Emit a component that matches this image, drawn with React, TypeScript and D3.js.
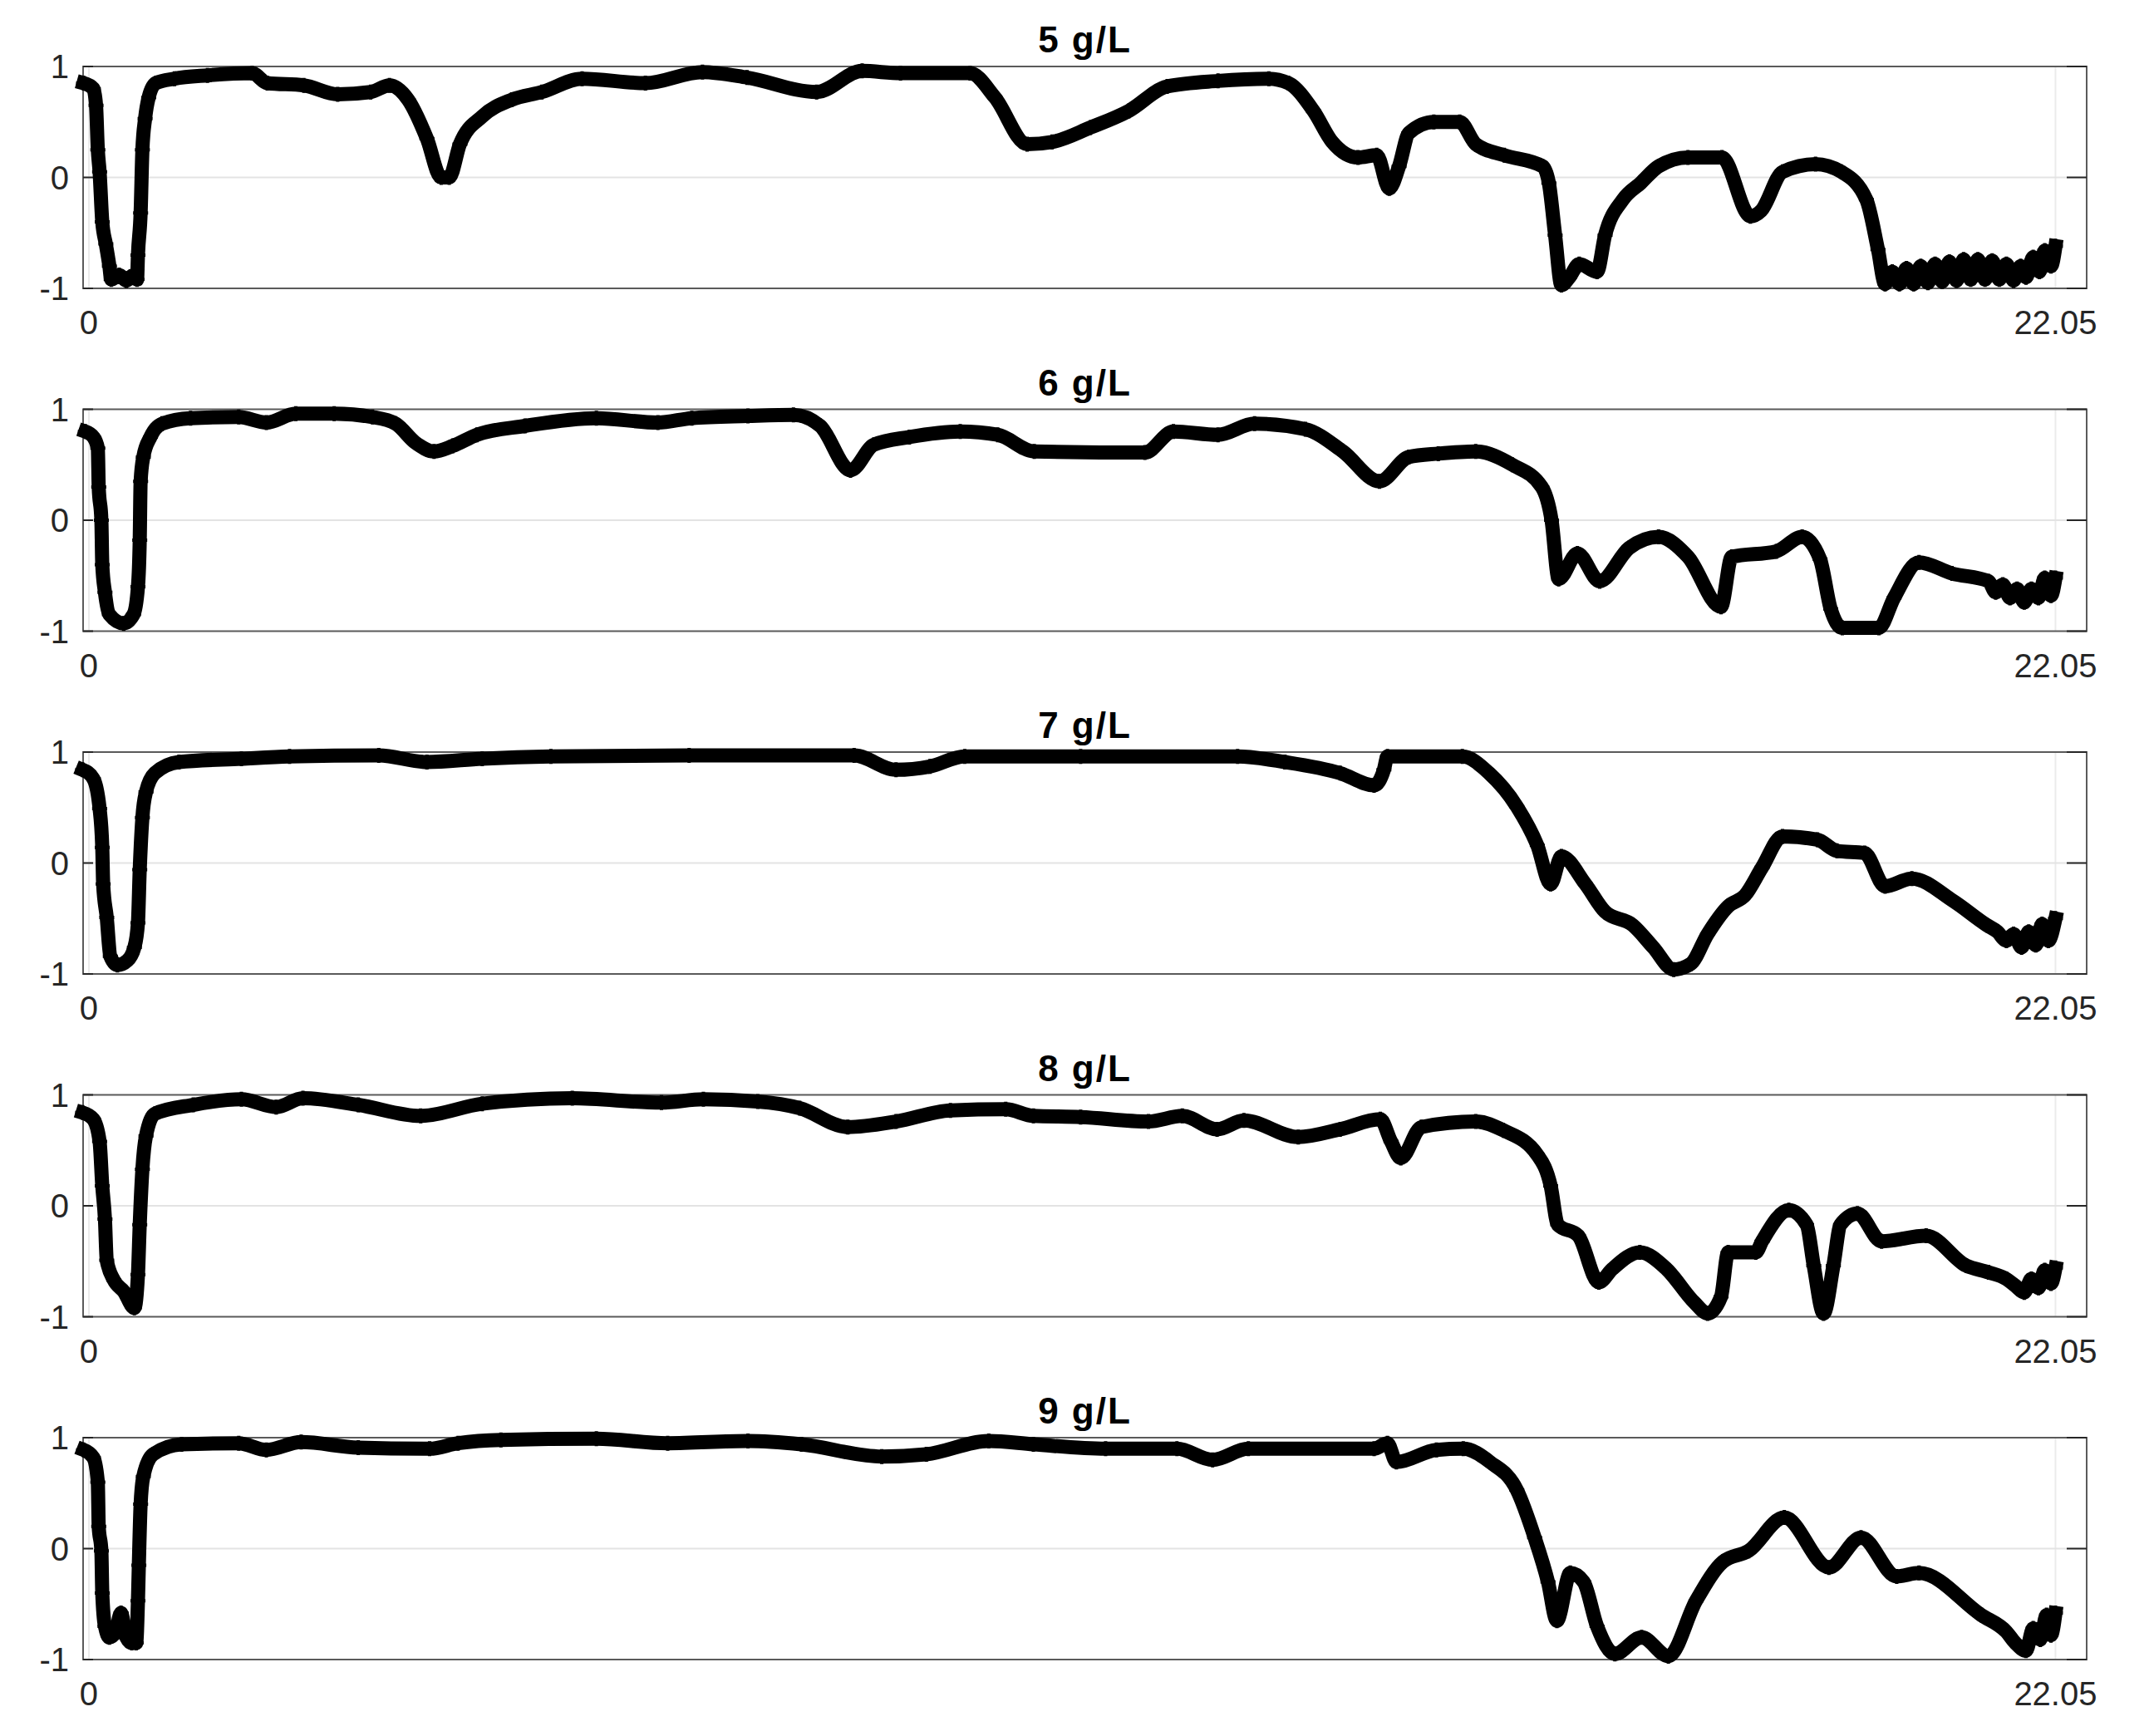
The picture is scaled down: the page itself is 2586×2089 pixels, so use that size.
import React from 'react';
import * as d3 from 'd3';

// correlation traces, one per concentration as [time, value]
const panelTitles = ['5 g/L', '6 g/L', '7 g/L', '8 g/L', '9 g/L'];
const yTicks = [-1, 0, 1];
const xTicks = [0, 22.05];
const xTickLabels = ['0', '22.05'];

const conc5: [number, number][] = [
  [-0.06, 0.85], [0.05, 0.8], [0.08, 0.65], [0.1, 0.25], [0.12, 0.05], [0.15, -0.4], [0.19, -0.6],
  [0.23, -0.8], [0.25, -0.92], [0.34, -0.88], [0.42, -0.93], [0.5, -0.88], [0.54, -0.92], [0.55, -0.7],
  [0.58, -0.32], [0.6, 0.25], [0.63, 0.53], [0.67, 0.72], [0.75, 0.85], [0.96, 0.89], [1.33, 0.92],
  [1.83, 0.94], [2.0, 0.85], [2.41, 0.83], [2.79, 0.75], [3.16, 0.77], [3.37, 0.83], [3.58, 0.7],
  [3.79, 0.35], [3.95, 0.0], [4.04, 0.0], [4.16, 0.3], [4.41, 0.55], [4.74, 0.7], [5.08, 0.77],
  [5.53, 0.89], [6.24, 0.85], [6.88, 0.95], [7.38, 0.9], [8.16, 0.77], [8.67, 0.96], [9.1, 0.94],
  [9.88, 0.94], [10.16, 0.72], [10.52, 0.3], [10.8, 0.32], [11.23, 0.45], [11.66, 0.6], [12.09, 0.82],
  [12.66, 0.87], [13.23, 0.89], [13.45, 0.85], [13.73, 0.6], [13.94, 0.32], [14.23, 0.18], [14.44, 0.2],
  [14.58, -0.1], [14.69, 0.1], [14.8, 0.4], [15.08, 0.5], [15.37, 0.5], [15.55, 0.3], [15.87, 0.2],
  [16.3, 0.1], [16.37, -0.05], [16.44, -0.52], [16.51, -0.97], [16.6, -0.9], [16.71, -0.78],
  [16.91, -0.85], [17.0, -0.52], [17.2, -0.2], [17.4, -0.05], [17.6, 0.1], [17.93, 0.18], [18.31, 0.18],
  [18.63, -0.35], [18.75, -0.3], [18.99, 0.05], [19.36, 0.12], [19.65, 0.05], [19.93, -0.2],
  [20.06, -0.65], [20.14, -0.96], [20.22, -0.85], [20.3, -0.96], [20.38, -0.82], [20.46, -0.96],
  [20.54, -0.8], [20.62, -0.95], [20.7, -0.78], [20.78, -0.94], [20.86, -0.76], [20.94, -0.93],
  [21.02, -0.74], [21.1, -0.92], [21.18, -0.74], [21.26, -0.92], [21.34, -0.75], [21.42, -0.92],
  [21.5, -0.78], [21.58, -0.93], [21.66, -0.8], [21.72, -0.9], [21.8, -0.72], [21.87, -0.85],
  [21.93, -0.66], [22.0, -0.8], [22.05, -0.62]
];

const conc6: [number, number][] = [
  [-0.04, 0.8], [0.05, 0.75], [0.1, 0.65], [0.11, 0.3], [0.14, 0.0], [0.15, -0.4], [0.18, -0.65],
  [0.23, -0.85], [0.39, -0.93], [0.5, -0.85], [0.55, -0.6], [0.57, -0.18], [0.58, 0.35], [0.61, 0.57],
  [0.69, 0.75], [0.82, 0.87], [1.14, 0.92], [1.68, 0.93], [1.99, 0.88], [2.32, 0.96], [2.75, 0.96],
  [3.18, 0.93], [3.44, 0.87], [3.66, 0.7], [3.87, 0.62], [4.08, 0.67], [4.35, 0.77], [4.89, 0.85],
  [5.69, 0.92], [6.38, 0.88], [6.76, 0.92], [7.39, 0.94], [7.9, 0.95], [8.2, 0.85], [8.54, 0.45],
  [8.8, 0.68], [9.2, 0.75], [9.77, 0.8], [10.19, 0.77], [10.6, 0.62], [11.84, 0.61], [12.16, 0.8],
  [12.66, 0.77], [13.07, 0.87], [13.64, 0.82], [14.06, 0.62], [14.47, 0.35], [14.8, 0.57], [15.13, 0.6],
  [15.55, 0.62], [15.96, 0.5], [16.29, 0.3], [16.4, 0.0], [16.48, -0.53], [16.69, -0.3], [16.94, -0.55],
  [17.27, -0.25], [17.6, -0.15], [17.93, -0.33], [18.3, -0.78], [18.42, -0.33], [18.92, -0.28],
  [19.21, -0.15], [19.41, -0.35], [19.53, -0.8], [19.66, -0.97], [20.07, -0.97], [20.24, -0.7],
  [20.52, -0.38], [20.89, -0.48], [21.3, -0.55], [21.38, -0.65], [21.46, -0.58], [21.54, -0.7],
  [21.62, -0.62], [21.7, -0.74], [21.78, -0.62], [21.86, -0.7], [21.93, -0.52], [22.0, -0.68],
  [22.05, -0.52]
];

const conc7: [number, number][] = [
  [-0.07, 0.84], [0.05, 0.76], [0.12, 0.49], [0.15, 0.14], [0.16, -0.19], [0.2, -0.49], [0.24, -0.84],
  [0.32, -0.92], [0.43, -0.88], [0.51, -0.76], [0.55, -0.54], [0.57, -0.06], [0.6, 0.41], [0.64, 0.64],
  [0.74, 0.81], [1.01, 0.91], [1.71, 0.94], [2.25, 0.96], [3.25, 0.97], [3.79, 0.91], [4.41, 0.94],
  [5.18, 0.96], [6.73, 0.97], [8.58, 0.97], [9.05, 0.84], [9.43, 0.87], [9.82, 0.96], [11.12, 0.96],
  [12.88, 0.96], [13.41, 0.91], [14.03, 0.81], [14.41, 0.7], [14.52, 0.84], [14.56, 0.96], [15.4, 0.96],
  [15.7, 0.81], [16.01, 0.51], [16.24, 0.16], [16.39, -0.19], [16.51, 0.06], [16.78, -0.19], [17.0, -0.44],
  [17.31, -0.56], [17.54, -0.76], [17.77, -0.96], [17.96, -0.91], [18.15, -0.64], [18.38, -0.39],
  [18.57, -0.29], [18.76, -0.04], [18.99, 0.24], [19.38, 0.21], [19.6, 0.11], [19.91, 0.09],
  [20.14, -0.21], [20.44, -0.14], [20.9, -0.34], [21.28, -0.56], [21.4, -0.62], [21.5, -0.7],
  [21.58, -0.64], [21.67, -0.76], [21.75, -0.62], [21.83, -0.74], [21.9, -0.55], [21.97, -0.7],
  [22.05, -0.5]
];

const conc8: [number, number][] = [
  [-0.07, 0.84], [0.05, 0.78], [0.12, 0.58], [0.15, 0.18], [0.18, -0.12], [0.2, -0.49], [0.28, -0.67],
  [0.39, -0.77], [0.51, -0.92], [0.55, -0.62], [0.57, -0.17], [0.6, 0.33], [0.64, 0.63], [0.74, 0.83],
  [1.17, 0.91], [1.71, 0.96], [2.1, 0.89], [2.4, 0.97], [3.02, 0.91], [3.72, 0.81], [4.41, 0.92],
  [5.42, 0.97], [6.42, 0.93], [6.89, 0.96], [7.5, 0.94], [7.97, 0.88], [8.51, 0.71], [9.05, 0.76],
  [9.66, 0.86], [10.28, 0.87], [10.59, 0.81], [11.12, 0.8], [11.88, 0.76], [12.26, 0.81], [12.65, 0.69],
  [12.95, 0.77], [13.56, 0.62], [14.03, 0.69], [14.48, 0.78], [14.6, 0.58], [14.71, 0.43], [14.94, 0.71],
  [15.55, 0.76], [15.86, 0.68], [16.24, 0.46], [16.39, 0.18], [16.47, -0.17], [16.7, -0.27],
  [16.93, -0.69], [17.08, -0.57], [17.39, -0.42], [17.69, -0.57], [18.0, -0.87], [18.15, -0.97],
  [18.3, -0.82], [18.38, -0.42], [18.69, -0.42], [18.76, -0.32], [19.06, -0.04], [19.26, -0.17],
  [19.34, -0.54], [19.45, -0.97], [19.56, -0.54], [19.64, -0.17], [19.83, -0.07], [20.1, -0.32],
  [20.6, -0.27], [21.05, -0.54], [21.3, -0.6], [21.5, -0.66], [21.6, -0.72], [21.7, -0.78],
  [21.78, -0.66], [21.86, -0.74], [21.93, -0.58], [22.0, -0.7], [22.05, -0.56]
];

const conc9: [number, number][] = [
  [-0.06, 0.89], [0.05, 0.82], [0.1, 0.6], [0.11, 0.2], [0.14, -0.02], [0.15, -0.4], [0.18, -0.7],
  [0.23, -0.8], [0.3, -0.75], [0.36, -0.58], [0.42, -0.8], [0.48, -0.85], [0.53, -0.85], [0.55, -0.47],
  [0.56, -0.15], [0.58, 0.4], [0.61, 0.65], [0.72, 0.85], [1.04, 0.94], [1.68, 0.95], [1.99, 0.89],
  [2.38, 0.96], [3.02, 0.91], [3.82, 0.9], [4.14, 0.95], [4.62, 0.98], [5.69, 0.99], [6.49, 0.95],
  [7.39, 0.97], [7.99, 0.94], [8.89, 0.83], [9.39, 0.85], [10.09, 0.97], [10.59, 0.94], [11.4, 0.9],
  [12.2, 0.9], [12.6, 0.8], [13.0, 0.9], [14.41, 0.9], [14.56, 0.95], [14.66, 0.78], [15.11, 0.89],
  [15.41, 0.9], [15.71, 0.78], [16.01, 0.53], [16.21, 0.1], [16.36, -0.3], [16.46, -0.65], [16.61, -0.22],
  [16.76, -0.3], [16.91, -0.7], [17.11, -0.95], [17.41, -0.8], [17.71, -0.97], [18.02, -0.47],
  [18.32, -0.12], [18.61, -0.02], [19.01, 0.28], [19.51, -0.17], [19.87, 0.1], [20.27, -0.25],
  [20.52, -0.22], [21.22, -0.6], [21.5, -0.75], [21.6, -0.85], [21.72, -0.92], [21.8, -0.72],
  [21.88, -0.82], [21.95, -0.6], [22.0, -0.78], [22.05, -0.58]
];

const allSeries = [conc5, conc6, conc7, conc8, conc9];

const W = 2586;
const H = 2089;
const left = 100;
const right = 2511;
const firstTop = 80;
const plotH = 267;
const step = 412.5;
const ink = '#262626';
const font = '"Liberation Sans", Arial, Helvetica, sans-serif';

function Panel({ data, title, top }: { data: [number, number][]; title: string; top: number }) {
  const x = d3.scaleLinear().domain([-0.065, 22.4]).range([left, right]);
  const y = d3.scaleLinear().domain([-1, 1]).range([top + plotH, top]);
  const line = d3
    .line<[number, number]>()
    .x((d) => x(d[0]))
    .y((d) => y(d[1]))
    .curve(d3.curveMonotoneX);
  const bottom = top + plotH;

  return (
    <g>
      {/* grid */}
      {xTicks.map((t) => (
        <line key={'gx' + t} x1={x(t)} x2={x(t)} y1={top} y2={bottom} stroke="#ebebeb" strokeWidth={2} />
      ))}
      <line x1={left} x2={right} y1={y(0)} y2={y(0)} stroke="#e3e3e3" strokeWidth={2} />

      {/* box */}
      <rect x={left} y={top} width={right - left} height={plotH} fill="none" stroke="#5a5a5a" strokeWidth={2} />
      {yTicks.map((t) => (
        <g key={'ty' + t}>
          <line x1={left} x2={left + 12} y1={y(t)} y2={y(t)} stroke={ink} strokeWidth={2} />
          <line x1={right - 24} x2={right} y1={y(t)} y2={y(t)} stroke={ink} strokeWidth={2} />
        </g>
      ))}

      {/* trace */}
      <path
        d={line(data) || ''}
        fill="none"
        stroke="#000"
        strokeWidth={17}
        strokeLinejoin="round"
        strokeLinecap="square"
      />
      {data.map((d, i) => (
        <path
          key={i}
          d={`M${x(d[0]) - 9},${y(d[1])}h18M${x(d[0])},${y(d[1]) - 9}v18`}
          stroke="#000"
          strokeWidth={4}
        />
      ))}

      {/* tick labels */}
      {yTicks.map((t) => (
        <text
          key={'ly' + t}
          x={left - 17}
          y={y(t)}
          dy="0.36em"
          textAnchor="end"
          fontSize={40}
          fontFamily={font}
          fill={ink}
        >
          {t}
        </text>
      ))}
      {xTicks.map((t, i) => (
        <text
          key={'lx' + t}
          x={x(t)}
          y={bottom + 55}
          textAnchor="middle"
          fontSize={40}
          fontFamily={font}
          fill={ink}
        >
          {xTickLabels[i]}
        </text>
      ))}

      <text
        x={(left + right) / 2}
        y={top - 17}
        textAnchor="middle"
        fontSize={44}
        fontWeight="bold"
        letterSpacing={2}
        fontFamily={font}
        fill="#000"
      >
        {title}
      </text>
    </g>
  );
}

export default function App() {
  return (
    <svg
      width={W}
      height={H}
      style={{ position: 'absolute', left: 0, top: 0, display: 'block', background: '#fff' }}
    >
      <rect width={W} height={H} fill="#fff" />
      {allSeries.map((s, i) => (
        <Panel key={panelTitles[i]} data={s} title={panelTitles[i]} top={firstTop + i * step} />
      ))}
    </svg>
  );
}
